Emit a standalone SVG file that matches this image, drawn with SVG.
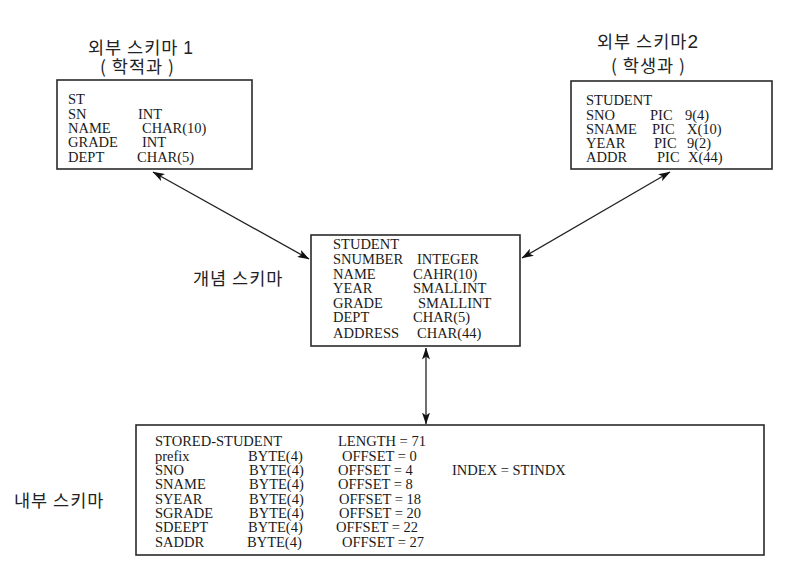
<svg xmlns="http://www.w3.org/2000/svg" width="812" height="583" viewBox="0 0 812 583">
  <style>
    .box { fill: #fff; stroke: #2a2a2a; stroke-width: 1.6; }
    .t { font-family: "Liberation Serif", "Times New Roman", serif; font-size: 14.5px; fill: #1a1a1a; }
    .ko { font-family: "Noto Sans CJK KR", "Noto Sans", sans-serif; font-size: 17.5px; fill: #222; letter-spacing: 1px; }
    .num { font-family: "Liberation Sans", Arial, sans-serif; }
    .link { fill: none; stroke: #222; stroke-width: 1.3; marker-start: url(#tip); marker-end: url(#tip); }
  </style>
  <defs>
    <marker id="tip" viewBox="0 0 12 8" refX="11.5" refY="4" markerWidth="12" markerHeight="8" markerUnits="userSpaceOnUse" orient="auto-start-reverse">
      <path d="M0,0 L12,4 L0,8 L3,4 Z" fill="#111"/>
    </marker>
  </defs>
  <rect width="812" height="583" fill="#fff"/>

  <!-- external schema 1 -->
  <g id="ext1">
    <text class="ko" x="88" y="54">외부 스키마 <tspan class="num">1</tspan></text>
    <text class="ko" x="100" y="73" font-size="16">( 학적과 )</text>
    <rect class="box" x="57" y="80" width="195" height="89"/>
    <text class="t" x="68" y="104">ST</text>
    <text class="t" x="68" y="118.5">SN</text>
    <text class="t" x="138" y="118.5">INT</text>
    <text class="t" x="68" y="133">NAME</text>
    <text class="t" x="142" y="133">CHAR(10)</text>
    <text class="t" x="68" y="147">GRADE</text>
    <text class="t" x="142" y="147">INT</text>
    <text class="t" x="68" y="161.5">DEPT</text>
    <text class="t" x="137" y="161.5">CHAR(5)</text>
  </g>

  <!-- external schema 2 -->
  <g id="ext2">
    <text class="ko" x="597" y="48">외부 스키마<tspan class="num" font-size="19">2</tspan></text>
    <text class="ko" x="611" y="72">( 학생과 )</text>
    <rect class="box" x="571" y="81" width="201" height="88"/>
    <text class="t" x="586" y="105">STUDENT</text>
    <text class="t" x="586" y="119.5">SNO</text>
    <text class="t" x="650" y="119.5">PIC</text>
    <text class="t" x="685" y="119.5">9(4)</text>
    <text class="t" x="586" y="134">SNAME</text>
    <text class="t" x="652" y="134">PIC</text>
    <text class="t" x="687" y="134">X(10)</text>
    <text class="t" x="586" y="148">YEAR</text>
    <text class="t" x="654" y="148">PIC</text>
    <text class="t" x="687" y="148">9(2)</text>
    <text class="t" x="586" y="161.5">ADDR</text>
    <text class="t" x="657" y="161.5">PIC</text>
    <text class="t" x="688" y="161.5">X(44)</text>
  </g>

  <!-- conceptual schema -->
  <g id="concept">
    <text class="ko" x="193" y="285">개념 스키마</text>
    <rect class="box" x="311" y="235" width="209" height="111"/>
    <text class="t" x="333" y="249">STUDENT</text>
    <text class="t" x="333" y="264">SNUMBER</text>
    <text class="t" x="417" y="264">INTEGER</text>
    <text class="t" x="333" y="278.5">NAME</text>
    <text class="t" x="413" y="278.5">CAHR(10)</text>
    <text class="t" x="333" y="293">YEAR</text>
    <text class="t" x="413" y="293">SMALLINT</text>
    <text class="t" x="333" y="307.5">GRADE</text>
    <text class="t" x="418" y="307.5">SMALLINT</text>
    <text class="t" x="333" y="322">DEPT</text>
    <text class="t" x="413" y="322">CHAR(5)</text>
    <text class="t" x="333" y="338">ADDRESS</text>
    <text class="t" x="417" y="338">CHAR(44)</text>
  </g>

  <!-- internal schema -->
  <g id="internal">
    <text class="ko" x="14" y="507">내부 스키마</text>
    <rect class="box" x="136" y="425" width="628" height="130"/>
    <text class="t" x="155" y="446">STORED-STUDENT</text>
    <text class="t" x="338" y="446">LENGTH = 71</text>
    <text class="t" x="155" y="460.5">prefix</text>
    <text class="t" x="248" y="460.5">BYTE(4)</text>
    <text class="t" x="342" y="460.5">OFFSET = 0</text>
    <text class="t" x="155" y="475">SNO</text>
    <text class="t" x="249" y="475">BYTE(4)</text>
    <text class="t" x="338" y="475">OFFSET = 4</text>
    <text class="t" x="452" y="475">INDEX = STINDX</text>
    <text class="t" x="155" y="489">SNAME</text>
    <text class="t" x="249" y="489">BYTE(4)</text>
    <text class="t" x="338" y="489">OFFSET = 8</text>
    <text class="t" x="155" y="503.5">SYEAR</text>
    <text class="t" x="249" y="503.5">BYTE(4)</text>
    <text class="t" x="339" y="503.5">OFFSET = 18</text>
    <text class="t" x="155" y="518">SGRADE</text>
    <text class="t" x="249" y="518">BYTE(4)</text>
    <text class="t" x="339" y="518">OFFSET = 20</text>
    <text class="t" x="155" y="532">SDEEPT</text>
    <text class="t" x="248" y="532">BYTE(4)</text>
    <text class="t" x="336" y="532">OFFSET = 22</text>
    <text class="t" x="155" y="546.5">SADDR</text>
    <text class="t" x="247" y="546.5">BYTE(4)</text>
    <text class="t" x="342" y="546.5">OFFSET = 27</text>
  </g>

  <!-- mappings between schema levels -->
  <g id="connectors">
    <line class="link" x1="153" y1="172" x2="309" y2="259"/>
    <line class="link" x1="670" y1="172" x2="522" y2="258"/>
    <line class="link" x1="426" y1="348" x2="426" y2="424"/>
  </g>
</svg>
